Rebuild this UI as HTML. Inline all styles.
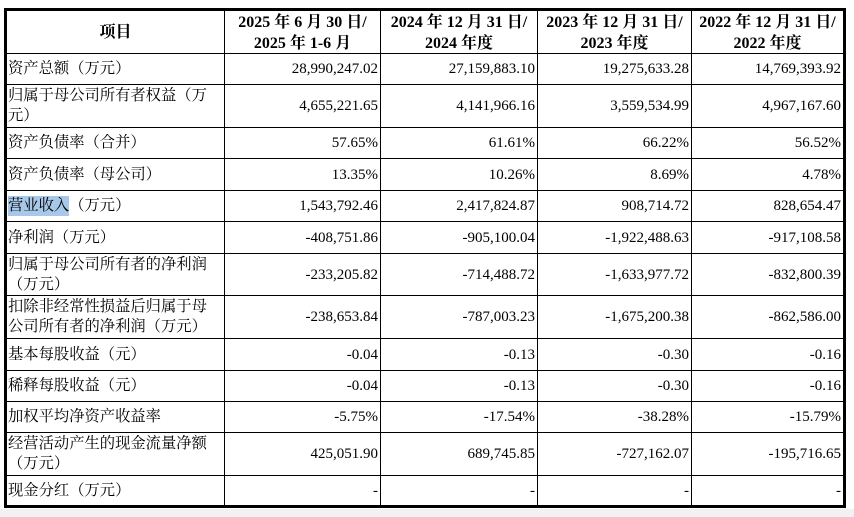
<!DOCTYPE html>
<html>
<head>
<meta charset="utf-8">
<style>
  html,body{margin:0;padding:0;}
  body{width:854px;height:517px;background:#fff;position:relative;overflow:hidden;
    font-family:"Liberation Serif","Noto Serif CJK SC","Noto Sans CJK SC",serif;color:#000;}
  .strip{position:absolute;left:0;top:509px;width:854px;height:8px;background:#f2f2f2;}
  .frame{position:absolute;left:4px;top:8px;width:842px;height:500px;border:3px solid #000;box-sizing:border-box;}
  .h{position:absolute;left:7px;width:836px;height:1px;background:#000;}
  .v{position:absolute;top:11px;width:1px;height:494px;background:#000;}
  .c{position:absolute;display:flex;align-items:center;font-size:15px;line-height:20px;box-sizing:border-box;white-space:nowrap;}
  .l{justify-content:flex-start;padding-left:1px;font-size:15.3px;}
  .r{justify-content:flex-end;padding-right:2px;}
  .hd{justify-content:center;text-align:center;font-weight:bold;font-size:16px;line-height:21px;padding-top:1px;}
  .hl{background:#a7c8e8;}
</style>
</head>
<body>
<div class="strip"></div>
<div class="frame"></div>

<!-- horizontal lines -->
<div class="h" style="top:53px"></div>
<div class="h" style="top:84px"></div>
<div class="h" style="top:127px"></div>
<div class="h" style="top:158px"></div>
<div class="h" style="top:190px"></div>
<div class="h" style="top:221px"></div>
<div class="h" style="top:253px"></div>
<div class="h" style="top:295px"></div>
<div class="h" style="top:338px"></div>
<div class="h" style="top:370px"></div>
<div class="h" style="top:401px"></div>
<div class="h" style="top:432px"></div>
<div class="h" style="top:475px"></div>

<!-- vertical lines -->
<div class="v" style="left:224px"></div>
<div class="v" style="left:380px"></div>
<div class="v" style="left:537px"></div>
<div class="v" style="left:691px"></div>

<!-- header -->
<div class="c hd" style="left:7px;width:217px;top:11px;height:42px;">项目</div>
<div class="c hd" style="left:225px;width:155px;top:11px;height:42px;">2025 年 6 月 30 日/<br>2025 年 1-6 月</div>
<div class="c hd" style="left:381px;width:156px;top:11px;height:42px;">2024 年 12 月 31 日/<br>2024 年度</div>
<div class="c hd" style="left:538px;width:153px;top:11px;height:42px;">2023 年 12 月 31 日/<br>2023 年度</div>
<div class="c hd" style="left:692px;width:151px;top:11px;height:42px;">2022 年 12 月 31 日/<br>2022 年度</div>

<!-- row 1 -->
<div class="c l" style="left:7px;width:217px;top:54px;height:30px;">资产总额（万元）</div>
<div class="c r" style="left:225px;width:155px;top:54px;height:30px;">28,990,247.02</div>
<div class="c r" style="left:381px;width:156px;top:54px;height:30px;">27,159,883.10</div>
<div class="c r" style="left:538px;width:153px;top:54px;height:30px;">19,275,633.28</div>
<div class="c r" style="left:692px;width:151px;top:54px;height:30px;">14,769,393.92</div>

<!-- row 2 -->
<div class="c l" style="left:7px;width:217px;top:85px;height:42px;">归属于母公司所有者权益（万<br>元）</div>
<div class="c r" style="left:225px;width:155px;top:85px;height:42px;">4,655,221.65</div>
<div class="c r" style="left:381px;width:156px;top:85px;height:42px;">4,141,966.16</div>
<div class="c r" style="left:538px;width:153px;top:85px;height:42px;">3,559,534.99</div>
<div class="c r" style="left:692px;width:151px;top:85px;height:42px;">4,967,167.60</div>

<!-- row 3 -->
<div class="c l" style="left:7px;width:217px;top:128px;height:30px;">资产负债率（合并）</div>
<div class="c r" style="left:225px;width:155px;top:128px;height:30px;">57.65%</div>
<div class="c r" style="left:381px;width:156px;top:128px;height:30px;">61.61%</div>
<div class="c r" style="left:538px;width:153px;top:128px;height:30px;">66.22%</div>
<div class="c r" style="left:692px;width:151px;top:128px;height:30px;">56.52%</div>

<!-- row 4 -->
<div class="c l" style="left:7px;width:217px;top:159px;height:31px;">资产负债率（母公司）</div>
<div class="c r" style="left:225px;width:155px;top:159px;height:31px;">13.35%</div>
<div class="c r" style="left:381px;width:156px;top:159px;height:31px;">10.26%</div>
<div class="c r" style="left:538px;width:153px;top:159px;height:31px;">8.69%</div>
<div class="c r" style="left:692px;width:151px;top:159px;height:31px;">4.78%</div>

<!-- row 5 -->
<div class="c l" style="left:7px;width:217px;top:191px;height:30px;"><span class="hl">营业收入</span>（万元）</div>
<div class="c r" style="left:225px;width:155px;top:191px;height:30px;">1,543,792.46</div>
<div class="c r" style="left:381px;width:156px;top:191px;height:30px;">2,417,824.87</div>
<div class="c r" style="left:538px;width:153px;top:191px;height:30px;">908,714.72</div>
<div class="c r" style="left:692px;width:151px;top:191px;height:30px;">828,654.47</div>

<!-- row 6 -->
<div class="c l" style="left:7px;width:217px;top:222px;height:31px;">净利润（万元）</div>
<div class="c r" style="left:225px;width:155px;top:222px;height:31px;">-408,751.86</div>
<div class="c r" style="left:381px;width:156px;top:222px;height:31px;">-905,100.04</div>
<div class="c r" style="left:538px;width:153px;top:222px;height:31px;">-1,922,488.63</div>
<div class="c r" style="left:692px;width:151px;top:222px;height:31px;">-917,108.58</div>

<!-- row 7 -->
<div class="c l" style="left:7px;width:217px;top:254px;height:41px;">归属于母公司所有者的净利润<br>（万元）</div>
<div class="c r" style="left:225px;width:155px;top:254px;height:41px;">-233,205.82</div>
<div class="c r" style="left:381px;width:156px;top:254px;height:41px;">-714,488.72</div>
<div class="c r" style="left:538px;width:153px;top:254px;height:41px;">-1,633,977.72</div>
<div class="c r" style="left:692px;width:151px;top:254px;height:41px;">-832,800.39</div>

<!-- row 8 -->
<div class="c l" style="left:7px;width:217px;top:296px;height:42px;">扣除非经常性损益后归属于母<br>公司所有者的净利润（万元）</div>
<div class="c r" style="left:225px;width:155px;top:296px;height:42px;">-238,653.84</div>
<div class="c r" style="left:381px;width:156px;top:296px;height:42px;">-787,003.23</div>
<div class="c r" style="left:538px;width:153px;top:296px;height:42px;">-1,675,200.38</div>
<div class="c r" style="left:692px;width:151px;top:296px;height:42px;">-862,586.00</div>

<!-- row 9 -->
<div class="c l" style="left:7px;width:217px;top:339px;height:31px;">基本每股收益（元）</div>
<div class="c r" style="left:225px;width:155px;top:339px;height:31px;">-0.04</div>
<div class="c r" style="left:381px;width:156px;top:339px;height:31px;">-0.13</div>
<div class="c r" style="left:538px;width:153px;top:339px;height:31px;">-0.30</div>
<div class="c r" style="left:692px;width:151px;top:339px;height:31px;">-0.16</div>

<!-- row 10 -->
<div class="c l" style="left:7px;width:217px;top:371px;height:30px;">稀释每股收益（元）</div>
<div class="c r" style="left:225px;width:155px;top:371px;height:30px;">-0.04</div>
<div class="c r" style="left:381px;width:156px;top:371px;height:30px;">-0.13</div>
<div class="c r" style="left:538px;width:153px;top:371px;height:30px;">-0.30</div>
<div class="c r" style="left:692px;width:151px;top:371px;height:30px;">-0.16</div>

<!-- row 11 -->
<div class="c l" style="left:7px;width:217px;top:402px;height:30px;">加权平均净资产收益率</div>
<div class="c r" style="left:225px;width:155px;top:402px;height:30px;">-5.75%</div>
<div class="c r" style="left:381px;width:156px;top:402px;height:30px;">-17.54%</div>
<div class="c r" style="left:538px;width:153px;top:402px;height:30px;">-38.28%</div>
<div class="c r" style="left:692px;width:151px;top:402px;height:30px;">-15.79%</div>

<!-- row 12 -->
<div class="c l" style="left:7px;width:217px;top:433px;height:42px;">经营活动产生的现金流量净额<br>（万元）</div>
<div class="c r" style="left:225px;width:155px;top:433px;height:42px;">425,051.90</div>
<div class="c r" style="left:381px;width:156px;top:433px;height:42px;">689,745.85</div>
<div class="c r" style="left:538px;width:153px;top:433px;height:42px;">-727,162.07</div>
<div class="c r" style="left:692px;width:151px;top:433px;height:42px;">-195,716.65</div>

<!-- row 13 -->
<div class="c l" style="left:7px;width:217px;top:476px;height:29px;">现金分红（万元）</div>
<div class="c r" style="left:225px;width:155px;top:476px;height:29px;">-</div>
<div class="c r" style="left:381px;width:156px;top:476px;height:29px;">-</div>
<div class="c r" style="left:538px;width:153px;top:476px;height:29px;">-</div>
<div class="c r" style="left:692px;width:151px;top:476px;height:29px;">-</div>
</body>
</html>
